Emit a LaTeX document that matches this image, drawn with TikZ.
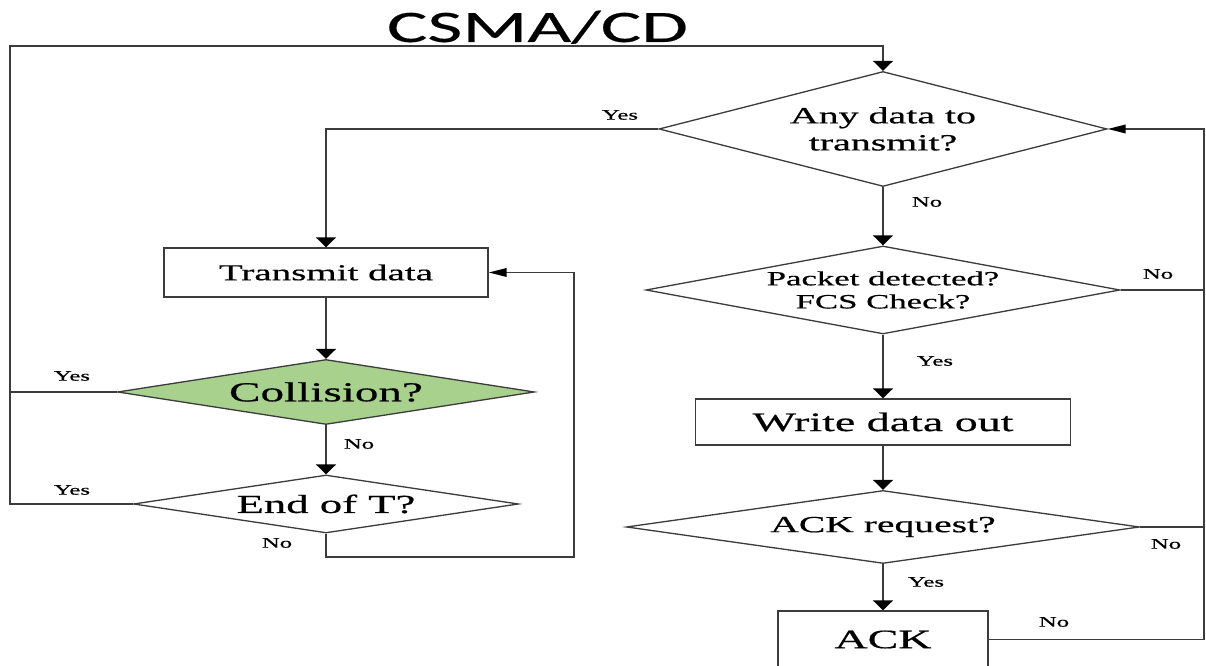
\documentclass[tikz,border=0pt]{standalone}
\usepackage{fontspec}
\setmainfont[FakeStretch=1.72,FakeBold=0.6]{Liberation Serif}
\newfontfamily\titlefont[FakeStretch=1.69,FakeBold=0.4]{Carlito}
\usetikzlibrary{arrows.meta,shapes.geometric}
\definecolor{collgreen}{RGB}{169,209,142}
\definecolor{wire}{RGB}{60,60,60}

\begin{document}
\begin{tikzpicture}[line width=1.1pt,
    box/.style={draw=wire, rectangle, line width=.75pt, inner sep=0pt},
    choice/.style={draw=wire, diamond, line width=.75pt, inner sep=0pt, align=center},
    tag/.style={font=\fontsize{8.2}{9}\selectfont},
    vdn/.style={draw=wire, -{Triangle[length=.2cm,width=.4cm,color=black]}},
    hin/.style={draw=wire, -{Triangle[length=.36cm,width=.17cm,color=black]}}]
    \useasboundingbox (0,0) rectangle (24.12,13.32);
    \clip (0,0) rectangle (24.12,13.32);
    \node[anchor=base, font=\titlefont\fontsize{25.6}{28}\selectfont] (title) at (10.75,12.48) {CSMA/CD};
    \node[choice, aspect=3.9, minimum width=8.96cm, minimum height=2.3cm, font=\fontsize{13.2}{15.4}\selectfont] (any) at (17.66,10.74) {Any data to\\transmit?};
    \node[box, minimum width=6.48cm, minimum height=.98cm, font=\fontsize{12.9}{15}\selectfont] (send) at (6.52,7.87) {Transmit data};
    \node[choice, fill=collgreen, aspect=6.4, minimum width=8.34cm, minimum height=1.3cm, font=\fontsize{15.6}{18}\selectfont] (coll) at (6.52,5.48) {Collision?};
    \node[choice, aspect=6.6, minimum width=7.7cm, minimum height=1.16cm, font=\fontsize{14.8}{17}\selectfont] (endt) at (6.52,3.24) {End of T?};
    \node[choice, aspect=5.4, minimum width=9.48cm, minimum height=1.76cm, font=\fontsize{11.5}{13.1}\selectfont] (pkt) at (17.66,7.52) {Packet detected?\\FCS Check?};
    \node[box, minimum width=7.5cm, minimum height=.92cm, font=\fontsize{15.2}{17}\selectfont] (wout) at (17.66,4.88) {Write data out};
    \node[choice, aspect=7, minimum width=10.26cm, minimum height=1.46cm, font=\fontsize{13.1}{15}\selectfont] (ackq) at (17.66,2.78) {ACK request?};
    \node[box, minimum width=4.2cm, minimum height=1.14cm, font=\fontsize{15.2}{17}\selectfont] (ack) at (17.66,.53) {ACK};
    \coordinate (tl) at (.2,12.4);
    \coordinate (rx) at (24.08,0);
    \coordinate (lp) at (11.48,2.18);
    \draw[vdn] (endt.west) -- (endt.west -| tl) -- (tl) -| (any.north);
    \draw[draw=wire] (coll.west) -- (coll.west -| tl);
    \draw[vdn] (any.west) -| (send.north);
    \draw[vdn] (send.south) -- (coll.north);
    \draw[vdn] (coll.south) -- (endt.north);
    \draw[hin] (endt.south) |- (lp) |- (send.east);
    \draw[vdn] (any.south) -- (pkt.north);
    \draw[vdn] (pkt.south) -- (wout.north);
    \draw[vdn] (wout.south) -- (ackq.north);
    \draw[vdn] (ackq.south) -- (ack.north);
    \draw[hin] (ack.east) -| (rx |- any.east) -- (any.east);
    \draw[draw=wire] (pkt.east) -- (pkt.east -| rx);
    \draw[draw=wire] (ackq.east) -- (ackq.east -| rx);
    \node[tag] (yesany) at (12.4,11.02) {Yes};
    \node[tag] (noany) at (18.54,9.28) {No};
    \node[tag] (yescoll) at (1.44,5.8) {Yes};
    \node[tag] (nocoll) at (7.18,4.44) {No};
    \node[tag] (yesendt) at (1.44,3.52) {Yes};
    \node[tag] (noendt) at (5.54,2.46) {No};
    \node[tag] (nopkt) at (23.16,7.84) {No};
    \node[tag] (yespkt) at (18.7,6.1) {Yes};
    \node[tag] (noackq) at (23.32,2.44) {No};
    \node[tag] (yesackq) at (18.52,1.68) {Yes};
    \node[tag] (noack) at (21.08,.88) {No};
  \end{tikzpicture}
\end{document}
